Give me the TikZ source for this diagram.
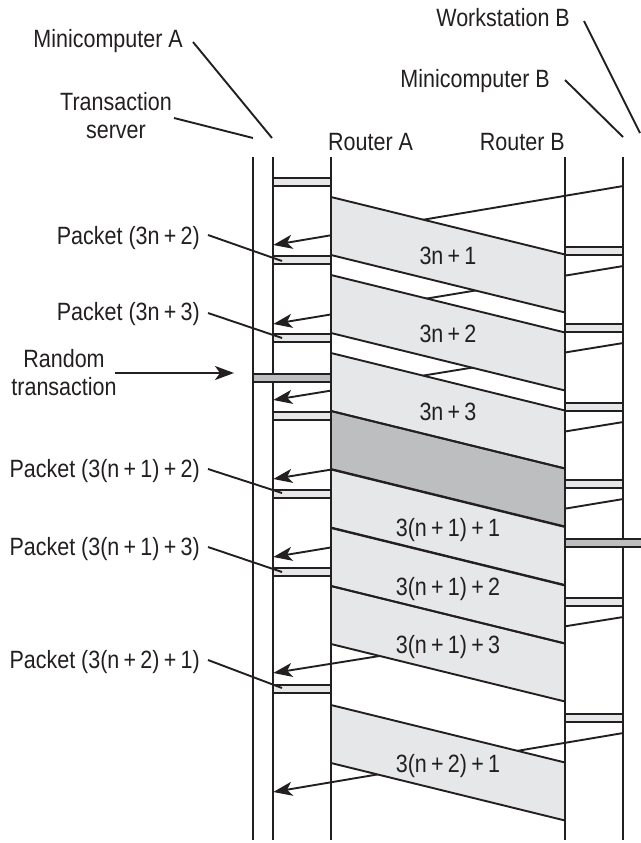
\documentclass[tikz,border=0pt]{standalone}
\usepackage{fontspec}
\setmainfont{Liberation Sans}[FakeStretch=0.86]
\usetikzlibrary{arrows.meta}

\definecolor{fillLight}{HTML}{E6E7E8}
\definecolor{fillDark}{HTML}{BCBEC0}
\definecolor{ink}{HTML}{231F20}

% plus sign with tight spacing
\newcommand{\pl}{\hspace{0.17em}+\hspace{0.17em}}

\begin{document}
\begin{tikzpicture}[x=1pt,y=-1pt,
  every node/.style={font=\fontsize{25}{28}\selectfont, inner sep=0pt, text=ink},
  life/.style={line width=2pt, draw=ink},
  msg/.style={line width=1.9pt, draw=ink, -{Stealth[length=19pt,width=14pt,inset=5pt]}},
  leader/.style={line width=1.9pt, draw=ink},
  pointer/.style={line width=1.9pt, draw=ink, -{Stealth[length=19pt,width=14pt,inset=5pt]}},
  edge/.style={line width=1.9pt, draw=ink},
  lightbar/.style={line width=1.9pt, draw=ink, fill=fillLight},
  darkbar/.style={line width=1.9pt, draw=ink, fill=fillDark}]

\useasboundingbox (0,0) rectangle (640,843);

% lifeline positions
\def\xTS{252.7}
\def\xMA{272.7}
\def\xRA{331}
\def\xRB{565}
\def\xMB{623.3}
\def\ytop{157}
\def\ybot{840}

% messages from minicomputer B to minicomputer A (partly hidden by the bands)
\foreach \i/\ys/\ye in {1/186/245, 2/266/324, 3/343/400, 4/422/479,
                         5/499/557, 6/617/673, 7/733/792} {
  \coordinate (msg\i-from) at (\xMB,\ys);
  \coordinate (msg\i-to) at (\xMA+0.6,\ye);
  \draw[msg] (msg\i-from) -- (msg\i-to);
}

% packet bands between the routers
\foreach \yt/\col in {197/fillLight, 275/fillLight, 353/fillLight,
                      411/fillDark, 469.5/fillLight, 528/fillLight,
                      586/fillLight, 705/fillLight} {
  \fill[\col] (\xRA,\yt) -- (\xRB,\yt+57.5) -- (\xRB,\yt+115.5)
              -- (\xRA,\yt+58) -- cycle;
}
\foreach \yt in {197, 275, 353, 411, 469.5, 528, 586, 705} {
  \draw[edge] (\xRA,\yt) -- (\xRB,\yt+57.5);
  \draw[edge] (\xRA,\yt+58) -- (\xRB,\yt+115.5);
}
\foreach \yt/\lab [count=\k] in {197/{3n\pl 1}, 275/{3n\pl 2}, 353/{3n\pl 3},
                      469.5/{3(n\pl 1)\pl 1}, 528/{3(n\pl 1)\pl 2},
                      586/{3(n\pl 1)\pl 3}, 705/{3(n\pl 2)\pl 1}} {
  \node[anchor=base] (band\k) at (448,\yt+67) {\lab};
}

% lifelines
\foreach \n/\x in {ts/\xTS, ma/\xMA, ra/\xRA, rb/\xRB, mb/\xMB} {
  \coordinate (\n-top) at (\x,\ytop);
  \coordinate (\n-bot) at (\x,\ybot);
  \draw[life] (\n-top) -- (\n-bot);
}

% processing bars on minicomputer A
\foreach \a/\b in {177/187, 255/265, 333/343, 411/421, 489/499, 567/577, 684/694} {
  \draw[lightbar] (\xMA,\a+1) rectangle (\xRA,\b-1);
}
% processing bars on minicomputer B
\foreach \a/\b in {246/256, 323/333, 402/412, 479/489, 597/607, 713/723} {
  \draw[lightbar] (\xRB,\a+1) rectangle (\xMB,\b-1);
}
% random transaction and its counterpart
\draw[darkbar] (\xTS,374) rectangle (\xRA,382);
\draw[darkbar] (\xRB,539) rectangle (645,547);

% column headings (two-line nodes are anchored on their last baseline)
\node[anchor=base west] (hRA) at (328,150) {Router A};
\node[anchor=base east] (hRB) at (565,150) {Router B};
\node[anchor=base east] (hMA) at (183,48) {Minicomputer A};
\node[anchor=base, align=center] (hTS) at (116,138) {Transaction\\[0pt]server};
\node[anchor=base east] (hMB) at (550,87) {Minicomputer B};
\node[anchor=base east] (hWB) at (570,27) {Workstation B};

\coordinate (lMA) at (193,42);   \coordinate (eMA) at (272,138);
\coordinate (lTS) at (174,118);  \coordinate (eTS) at (253,138);
\coordinate (lMB) at (565,80);   \coordinate (eMB) at (623,137);
\coordinate (lWB) at (584,21);   \coordinate (eWB) at (640,133);
\draw[leader] (lMA) -- (eMA);
\draw[leader] (lTS) -- (eTS);
\draw[leader] (lMB) -- (eMB);
\draw[leader] (lWB) -- (eWB);

% packet callouts on the left
\foreach \k/\yb/\ya/\yz/\txt in {1/244/235/261/{Packet (3n\pl 2)},
                                 2/320/313/338/{Packet (3n\pl 3)},
                                 3/477/469/493/{Packet (3(n\pl 1)\pl 2)},
                                 4/555/547/572/{Packet (3(n\pl 1)\pl 3)},
                                 5/668/660/688/{Packet (3(n\pl 2)\pl 1)}} {
  \node[anchor=base east] (pk\k) at (200,\yb) {\txt};
  \coordinate (pk\k-a) at (208,\ya);
  \coordinate (pk\k-b) at (282,\yz);
  \draw[leader] (pk\k-a) -- (pk\k-b);
}

% random transaction callout
\node[anchor=base, align=center] (rnd) at (64,395) {Random\\[0pt]transaction};
\coordinate (rnd-a) at (115,373);
\coordinate (rnd-b) at (234,373);
\draw[pointer] (rnd-a) -- (rnd-b);

\end{tikzpicture}
\end{document}
